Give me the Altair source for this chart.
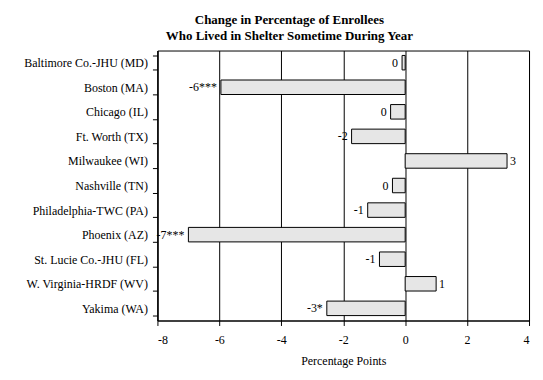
import altair as alt
import pandas as pd

sites = ["Baltimore Co.-JHU (MD)", "Boston (MA)", "Chicago (IL)", "Ft. Worth (TX)",
         "Milwaukee (WI)", "Nashville (TN)", "Philadelphia-TWC (PA)", "Phoenix (AZ)",
         "St. Lucie Co.-JHU (FL)", "W. Virginia-HRDF (WV)", "Yakima (WA)"]
values = [-0.1, -5.95, -0.47, -1.73, 3.29, -0.41, -1.21, -7.0, -0.83, 1.0, -2.53]
labels = ["0", "-6***", "0", "-2", "3", "0", "-1", "-7***", "-1", "1", "-3*"]
x_ticks = [-8, -6, -4, -2, 0, 2, 4]

df = pd.DataFrame({"site": sites, "value": values, "label": labels})
df["side"] = ["neg" if v < 0 else "pos" for v in values]

FONT = "Liberation Serif"

y_axis = alt.Axis(tickBand="extent", tickSize=5, labelPadding=5, grid=False)
y_enc = alt.Y("site:N", sort=sites, title=None,
              scale=alt.Scale(paddingInner=0.41, paddingOuter=0.2), axis=y_axis)
x_scale = alt.Scale(domain=[-8, 4], nice=False, zero=False)
x_axis = alt.Axis(values=x_ticks, title="Percentage Points", labelExpr="'' + datum.value",
                  grid=True, gridColor="black", gridOpacity=1, tickSize=5,
                  labelPadding=9, titlePadding=10)

bars = alt.Chart(df).mark_bar(fill="#e6e6e6", stroke="black", strokeWidth=1).encode(
    x=alt.X("value:Q", scale=x_scale, axis=x_axis),
    x2=alt.datum(0),
    y=y_enc,
)

neg = alt.Chart(df).transform_filter(alt.datum.side == "neg").mark_text(
    align="right", baseline="middle", dx=-4, font=FONT, fontSize=12, color="black"
).encode(x=alt.X("value:Q", scale=x_scale, axis=x_axis),
         y=alt.Y("site:N", sort=sites, title=None, axis=y_axis), text="label:N")

pos = alt.Chart(df).transform_filter(alt.datum.side == "pos").mark_text(
    align="left", baseline="middle", dx=3, font=FONT, fontSize=12, color="black"
).encode(x=alt.X("value:Q", scale=x_scale, axis=x_axis),
         y=alt.Y("site:N", sort=sites, title=None, axis=y_axis), text="label:N")

chart = alt.layer(bars, neg, pos).properties(
    width=373, height=271,
    title=alt.TitleParams(
        text=["Change in Percentage of Enrollees", "Who Lived in Shelter Sometime During Year"],
        anchor="middle", dx=-54, offset=2, lineHeight=16),
    padding={"left": 15, "top": 5, "right": 5, "bottom": 5},
).configure(background="white").configure_view(stroke="black", strokeWidth=1).configure_axis(
    labelFont=FONT, labelFontSize=12, labelColor="black",
    titleFont=FONT, titleFontSize=12, titleFontWeight="normal", titleColor="black",
    domainColor="black", tickColor="black",
).configure_title(font=FONT, fontSize=13, fontWeight="bold", color="black")

chart.save("out.html", embed_options={"renderer": "svg", "actions": False})
